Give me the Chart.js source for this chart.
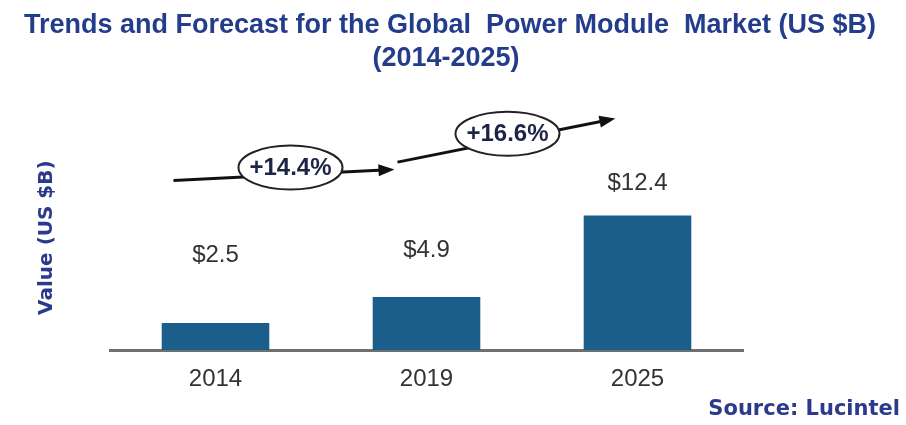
<!DOCTYPE html>
<html>
<head>
<meta charset="utf-8">
<script src="https://cdn.jsdelivr.net/npm/chart.js@4.4.0/dist/chart.umd.min.js"></script>
<style>
  html, body { margin: 0; padding: 0; background: #fff; }
  #wrap { width: 906px; height: 425px; position: relative; }
</style>
</head>
<body>
<div id="wrap"><canvas id="myChart"></canvas></div>
<script>
// data
const years = ["2014", "2019", "2025"];
const marketValue = [2.5, 4.9, 12.4];
const valueLabels = ["$2.5", "$4.9", "$12.4"];
const growthLabels = ["+14.4%", "+16.6%"];
const titleLines = ["Trends and Forecast for the Global  Power Module  Market (US $B)", "(2014-2025)"];

const sans = "'Liberation Sans', Arial, sans-serif";
const wide = "'DejaVu Sans', Verdana, sans-serif";

// title, value labels, growth arrows and extra texts
const decor = {
  id: "decor",
  afterDatasetsDraw(chart, args, opts) {
    const c = chart.ctx;
    const x = chart.scales.x;
    const y = chart.scales.y;
    const cx = (i) => x.getPixelForValue(i);

    c.save();
    c.textAlign = "center";

    // title (drawn here so it is not squeezed into the plot width)
    c.textBaseline = "alphabetic";
    c.fillStyle = "#233c8c";
    c.font = "bold 27px " + sans;
    c.fillText(titleLines[0], 450, 33);
    c.fillText(titleLines[1], 446, 66);

    // labels above bars
    c.textBaseline = "middle";
    c.fillStyle = "#333";
    c.font = "24px " + sans;
    valueLabels.forEach((t, i) => {
      c.fillText(t, cx(i), y.getPixelForValue(opts.labelAt[i]));
    });

    // arrows
    const arrow = (x0, y0, x1, y1) => {
      c.strokeStyle = "#111";
      c.fillStyle = "#111";
      c.lineWidth = 3;
      c.beginPath();
      c.moveTo(x0, y0);
      c.lineTo(x1, y1);
      c.stroke();
      const a = Math.atan2(y1 - y0, x1 - x0);
      c.beginPath();
      c.moveTo(x1 + 6 * Math.cos(a), y1 + 6 * Math.sin(a));
      c.lineTo(x1 - 10 * Math.cos(a) + 6 * Math.sin(a), y1 - 10 * Math.sin(a) - 6 * Math.cos(a));
      c.lineTo(x1 - 10 * Math.cos(a) - 6 * Math.sin(a), y1 - 10 * Math.sin(a) + 6 * Math.cos(a));
      c.closePath();
      c.fill();
    };
    const bubble = (ex, ey, text) => {
      c.beginPath();
      c.ellipse(ex, ey, 52, 22, 0, 0, Math.PI * 2);
      c.fillStyle = "#fff";
      c.fill();
      c.lineWidth = 2;
      c.strokeStyle = "#222";
      c.stroke();
      c.fillStyle = "#1c2545";
      c.font = "bold 24px " + sans;
      c.fillText(text, ex, ey + 1);
    };
    arrow(cx(0) - 42, y.getPixelForValue(15.6), cx(1) - 38, y.getPixelForValue(16.6));
    bubble(cx(0) + 75, y.getPixelForValue(16.8), growthLabels[0]);
    arrow(cx(1) - 29, y.getPixelForValue(17.3), cx(2) - 28, y.getPixelForValue(21.2));
    bubble(cx(1) + 81, y.getPixelForValue(19.9), growthLabels[1]);

    // y axis title
    c.save();
    c.translate(47, (chart.chartArea.top + chart.chartArea.bottom) / 2 + 7);
    c.rotate(-Math.PI / 2);
    c.fillStyle = "#2b3a8c";
    c.font = "bold 20px " + wide;
    c.fillText("Value (US $B)", 0, 0);
    c.restore();

    // source
    c.textAlign = "right";
    c.fillStyle = "#2b3a8c";
    c.font = "bold 21px " + wide;
    c.fillText("Source: Lucintel", 900, 410);
    c.restore();
  }
};

new Chart(document.getElementById("myChart"), {
  type: "bar",
  data: {
    labels: years,
    datasets: [
      {
        label: "Value (US $B)",
        data: marketValue,
        backgroundColor: "#1b5e8c",
        borderWidth: 0,
        barPercentage: 0.51,
        categoryPercentage: 1,
      },
    ],
  },
  options: {
    responsive: true,
    maintainAspectRatio: false,
    animation: false,
    layout: {
      padding: { left: 110, right: 163, top: 111, bottom: 16 },
    },
    plugins: {
      legend: { display: false },
      tooltip: { enabled: false },
      title: { display: false },
      decor: { labelAt: [8.7, 9.2, 15.3] },
    },
    scales: {
      x: {
        grid: { display: false, drawTicks: false },
        border: { display: true, color: "#707070", width: 3 },
        ticks: { color: "#333", font: { family: sans, size: 24 }, padding: 15 },
      },
      y: {
        display: false,
        min: 0,
        max: 22,
      },
    },
  },
  plugins: [decor],
});
</script>
</body>
</html>
